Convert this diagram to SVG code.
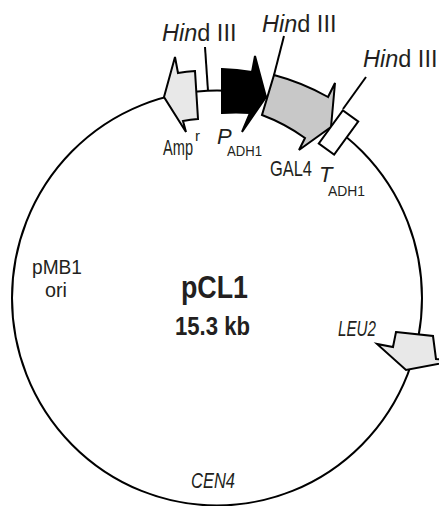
<svg xmlns="http://www.w3.org/2000/svg" width="439" height="506" viewBox="0 0 439 506">
<style>
.ln{fill:none;stroke:#000;stroke-width:2}
.ar{stroke:#000;stroke-width:2;stroke-linejoin:miter}
.t{font-family:"Liberation Sans",Arial,sans-serif;font-size:22px;fill:#231f20}
.h{font-size:23.5px}
.s{font-size:15px}
.i{font-style:italic}
.b{font-weight:bold}
</style>
<rect width="439" height="506" fill="#fff"/>
<g id="connectors">
<ellipse class="ln" cx="217" cy="298" rx="205" ry="207.5"/>
<line class="ln" x1="205" y1="47" x2="208" y2="91"/>
<line class="ln" x1="284" y1="36" x2="274" y2="75"/>
<line class="ln" x1="366" y1="77" x2="343" y2="109"/>
</g>
<g id="ampr">
<path class="ar" fill="#e8e8e8" d="M164,97 L175,57 L178,73 A230,230 0 0 1 195,71 L198,119 A185,185 0 0 0 183,121 L186,132 Z"/>
<text class="t" x="163" y="155"><tspan textLength="30" lengthAdjust="spacingAndGlyphs">Amp</tspan><tspan class="s" x="195" y="141">r</tspan></text>
</g>
<g id="gal4">
<path class="ar" fill="#c8c8c8" d="M274,75 A230,230 0 0 1 328,97 L335,83 L331,127 L299,150 L305,138 A185,185 0 0 0 262,115 Z"/>
<text class="t" x="270" y="176" textLength="42" lengthAdjust="spacingAndGlyphs">GAL4</text>
</g>
<g id="padh1">
<path class="ar" fill="#000" d="M222,69 A230,230 0 0 1 252,72 L255,56 L266,97 L242,132 L250,113 A185,185 0 0 0 222,113 Z"/>
<text class="t" x="217" y="144"><tspan class="i">P</tspan><tspan class="s" x="227" y="156" textLength="35" lengthAdjust="spacingAndGlyphs">ADH1</tspan></text>
</g>
<g id="tadh1">
<rect class="ar" fill="#fff" x="-9.5" y="-20.5" width="19" height="41" transform="translate(338.5,132.5) rotate(36)"/>
<text class="t" x="319" y="182"><tspan class="i">T</tspan><tspan class="s" x="328" y="196" textLength="37" lengthAdjust="spacingAndGlyphs">ADH1</tspan></text>
</g>
<g id="leu2">
<path class="ar" fill="#e8e8e8" d="M396,332 L433,336 L436,359 L454,361 L406,370 L377,344 L393,347 Z"/>
<text class="t i" x="338" y="336" textLength="38" lengthAdjust="spacingAndGlyphs">LEU2</text>
</g>
<g id="hind1">
<text class="t h" x="162" y="41"><tspan class="i">Hin</tspan>d III</text>
</g>
<g id="hind2">
<text class="t h" x="262" y="32"><tspan class="i">Hin</tspan>d III</text>
</g>
<g id="hind3">
<text class="t h" x="363" y="67"><tspan class="i">Hin</tspan>d III</text>
</g>
<g id="ori">
<text class="t" style="font-size:21px" x="32" y="274" textLength="50" lengthAdjust="spacingAndGlyphs">pMB1</text>
<text class="t" style="font-size:21px" x="45" y="297" textLength="22" lengthAdjust="spacingAndGlyphs">ori</text>
</g>
<g id="cen4">
<text class="t i" x="191" y="488" textLength="44" lengthAdjust="spacingAndGlyphs">CEN4</text>
</g>
<g id="title">
<text class="t b" style="font-size:32px" x="181" y="298" textLength="67" lengthAdjust="spacingAndGlyphs">pCL1</text>
<text class="t b" style="font-size:26px" x="175" y="335" textLength="75" lengthAdjust="spacingAndGlyphs">15.3 kb</text>
</g>
</svg>
